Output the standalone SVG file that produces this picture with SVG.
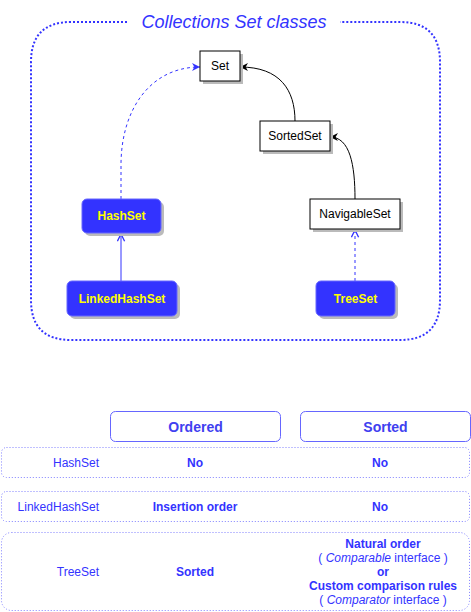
<svg xmlns="http://www.w3.org/2000/svg" width="471" height="612" viewBox="0 0 471 612">
<defs>
<style>
text{font-family:"Liberation Sans",Arial,sans-serif}
.box{fill:#fff;stroke:#000;stroke-width:1}
.shadow{fill:#bbb}
.blue{fill:#3333ff;stroke:#6666ff;stroke-width:1}
.bshadow{fill:#bbb}
.lbl{font-size:12px;fill:#000;text-anchor:middle}
.ylbl{font-size:12px;font-weight:bold;fill:#ffff00;text-anchor:middle}
.hdr{fill:#fff;stroke:#6666ff;stroke-width:1}
.hdrt{font-size:14px;font-weight:bold;fill:#4040f0;text-anchor:middle}
.row{fill:none;stroke:#8080ff;stroke-width:1;stroke-dasharray:1 2}
.rn{font-size:12px;fill:#3333ff;text-anchor:end}
.rv{font-size:12px;font-weight:bold;fill:#3333ff;text-anchor:middle}
.ri{font-size:12px;fill:#3333ff;text-anchor:middle}
</style>
<marker id="ab" viewBox="0 0 10 10" refX="10" refY="5" markerWidth="8" markerHeight="8" orient="auto" markerUnits="userSpaceOnUse"><path d="M0,0 L10,5 L0,10 L3,5 z" fill="#000"/></marker>
<marker id="abl" viewBox="0 0 10 10" refX="10" refY="5" markerWidth="8" markerHeight="8" orient="auto" markerUnits="userSpaceOnUse"><path d="M0,0 L10,5 L0,10 L3,5 z" fill="#3333ff"/></marker>
<marker id="aopen" viewBox="0 0 10 10" refX="9" refY="5" markerWidth="9" markerHeight="9" orient="auto" markerUnits="userSpaceOnUse"><path d="M1,1 L9,5 L1,9" fill="none" stroke="#3333ff" stroke-width="1.5"/></marker>
</defs>
<g id="container">
<path d="M127,22 L71,22 Q31,22 31,62 L31,300 Q31,340 71,340 L400,340 Q440,340 440,300 L440,62 Q440,22 400,22 L340,22" fill="none" stroke="#3333ff" stroke-width="2" stroke-dasharray="2 2"/>
<text x="234" y="28" font-size="18" font-style="italic" fill="#3333ff" text-anchor="middle">Collections Set classes</text>
</g>
<g id="connectors">
<path d="M121,199 L121,165 C121,110 150,67 200,67" fill="none" stroke="#3333ff" stroke-width="1" stroke-dasharray="3 3" marker-end="url(#abl)"/>
<path d="M295,121 C295,90 280,67 240,67" fill="none" stroke="#000" stroke-width="1" marker-end="url(#ab)"/>
<path d="M355,199 C355,165 350,137 330,137" fill="none" stroke="#000" stroke-width="1" marker-end="url(#ab)"/>
<path d="M121,281 L121,234" fill="none" stroke="#3333ff" stroke-width="1" marker-end="url(#aopen)"/>
<path d="M355,281 L355,230" fill="none" stroke="#3333ff" stroke-width="1" stroke-dasharray="3 3" marker-end="url(#aopen)"/>
</g>
<g id="set">
<rect x="203" y="54" width="40" height="30" class="shadow"/>
<rect x="200" y="51" width="40" height="30" class="box"/>
<text x="220" y="70" class="lbl">Set</text>
</g>
<g id="sortedset">
<rect x="263" y="124" width="70" height="30" class="shadow"/>
<rect x="260" y="121" width="70" height="30" class="box"/>
<text x="295" y="140" class="lbl">SortedSet</text>
</g>
<g id="navigableset">
<rect x="313" y="202" width="90" height="30" class="shadow"/>
<rect x="310" y="199" width="90" height="30" class="box"/>
<text x="355" y="218" class="lbl">NavigableSet</text>
</g>
<g id="hashset">
<rect x="85" y="202" width="79" height="34" rx="5" class="bshadow"/>
<rect x="82" y="199" width="79" height="34" rx="5" class="blue"/>
<text x="121.5" y="220" class="ylbl">HashSet</text>
</g>
<g id="linkedhashset">
<rect x="70" y="284" width="110" height="35" rx="5" class="bshadow"/>
<rect x="67" y="281" width="110" height="35" rx="5" class="blue"/>
<text x="122" y="303" class="ylbl">LinkedHashSet</text>
</g>
<g id="treeset">
<rect x="319" y="284" width="79" height="35" rx="5" class="bshadow"/>
<rect x="316" y="281" width="79" height="35" rx="5" class="blue"/>
<text x="355.5" y="303" class="ylbl">TreeSet</text>
</g>
<g id="hdr-ordered">
<rect x="110.5" y="411.5" width="170" height="30" rx="5" class="hdr"/>
<text x="195.5" y="432" class="hdrt">Ordered</text>
</g>
<g id="hdr-sorted">
<rect x="300.5" y="411.5" width="170" height="30" rx="5" class="hdr"/>
<text x="385.5" y="432" class="hdrt">Sorted</text>
</g>
<g id="row-hashset">
<rect x="1.5" y="447.5" width="468" height="30" rx="5" class="row"/>
<text x="99" y="467" class="rn">HashSet</text>
<text x="195" y="467" class="rv">No</text>
<text x="380" y="467" class="rv">No</text>
</g>
<g id="row-linkedhashset">
<rect x="1.5" y="491.5" width="468" height="30" rx="5" class="row"/>
<text x="99" y="511" class="rn">LinkedHashSet</text>
<text x="195" y="511" class="rv">Insertion order</text>
<text x="380" y="511" class="rv">No</text>
</g>
<g id="row-treeset">
<rect x="1.5" y="532.5" width="468" height="78" rx="10" class="row"/>
<text x="99" y="576" class="rn">TreeSet</text>
<text x="195" y="576" class="rv">Sorted</text>
<text x="383" y="548" class="rv">Natural order</text>
<text x="383" y="562" class="ri">( <tspan font-style="italic">Comparable</tspan> interface )</text>
<text x="383" y="576" class="rv">or</text>
<text x="383" y="590" class="rv">Custom comparison rules</text>
<text x="383" y="604" class="ri">( <tspan font-style="italic">Comparator</tspan> interface )</text>
</g>
</svg>
